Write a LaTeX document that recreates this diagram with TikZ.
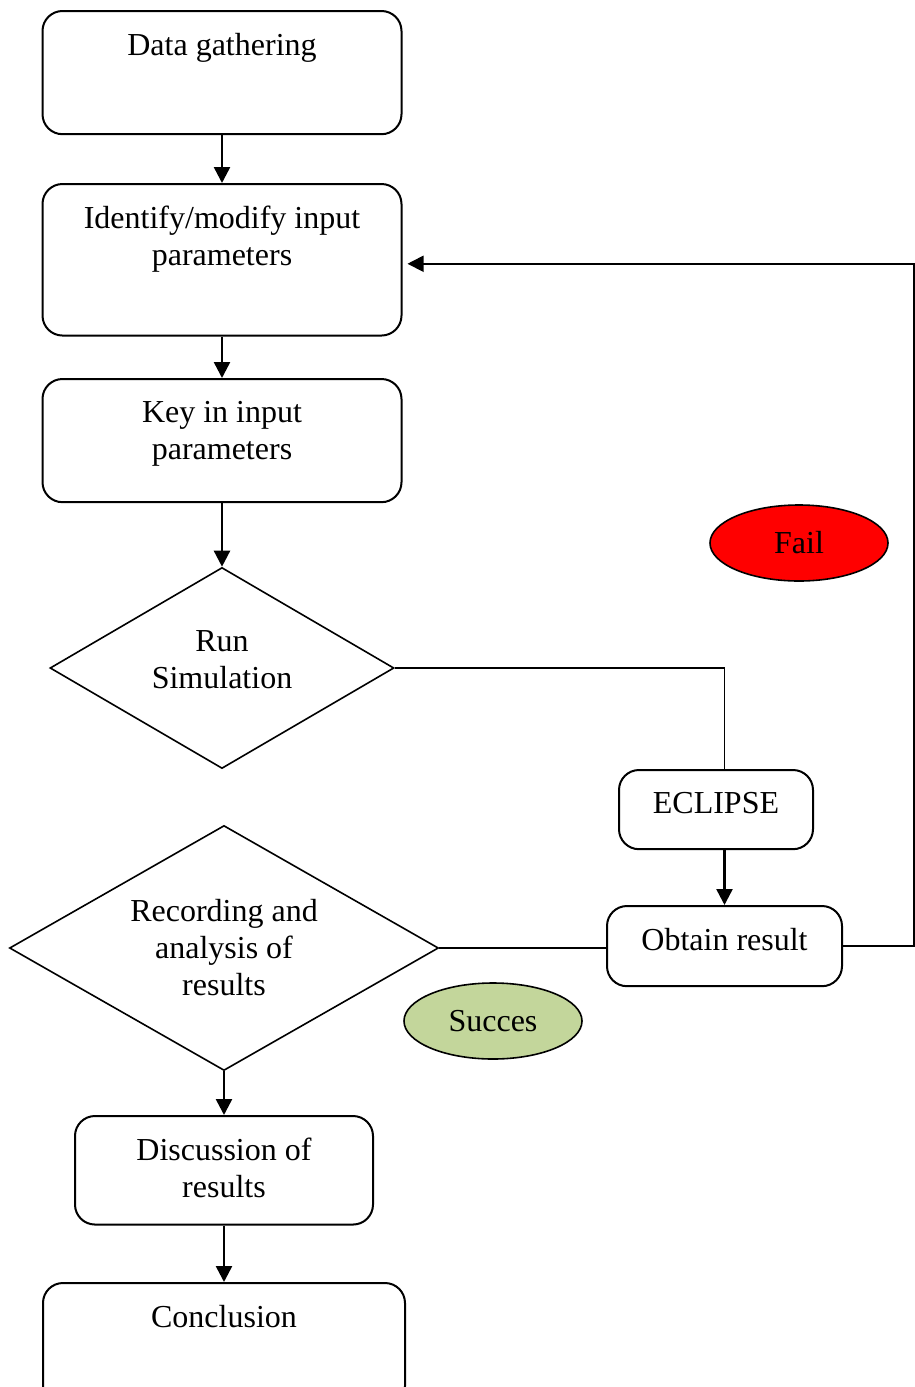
\documentclass[tikz,border=0pt]{standalone}
\usepackage{fontspec}
\setmainfont{Liberation Serif}
\usetikzlibrary{arrows.meta, shapes.geometric, positioning}
\definecolor{succgreen}{HTML}{C3D69B}

\begin{document}
\begin{tikzpicture}[x=0.5pt, y=-0.5pt,
    font=\fontsize{16}{18.5}\selectfont,
    box/.style={draw, rounded corners=10pt, line width=1pt, anchor=north, inner xsep=4pt, inner ysep=11pt, align=center},
    decision/.style={draw, diamond, line width=0.8pt, inner sep=0pt, align=center},
    flag/.style={draw, ellipse, line width=0.8pt, minimum width=89pt, minimum height=38pt, inner sep=0pt},
    arr/.style={-{Triangle[length=8pt, width=8pt]}, line width=1.25pt},
    link/.style={line width=0.8pt}]
    \useasboundingbox (0,0) rectangle (915,1387);

    % Left column
    \node[box, minimum width=179.5pt, text depth=28.5pt] (gather) at (222,10) {Data gathering};
    \node[box, minimum width=179.5pt, text depth=24pt] (ident) at (222,183) {Identify/modify input\\parameters};
    \node[box, minimum width=179.5pt, text depth=10.5pt] (key) at (222,378) {Key in input\\parameters};
    \node[decision, minimum width=172pt, minimum height=100.5pt, shape aspect=1.7, text depth=8pt] (run) at (222,668) {Run\\Simulation};
    \node[decision, minimum width=214.5pt, minimum height=122.5pt, shape aspect=1.75] (rec) at (224,948) {Recording and\\analysis of\\results};
    \node[box, minimum width=149pt, text depth=2.5pt] (disc) at (224,1115) {Discussion of\\results};
    \node[box, minimum width=181pt, text depth=28.5pt] (concl) at (224,1282) {Conclusion};

    % Simulator side
    \node[box, minimum width=97pt, text depth=7pt] (eclipse) at (716,769) {ECLIPSE};
    \node[box, minimum width=117.5pt, text depth=7pt] (obtain) at (724.5,905) {Obtain result};

    % Outcomes
    \node[flag, fill=red] (fail) at (799,543) {Fail};
    \node[flag, fill=succgreen] (succes) at (493,1021) {Succes};

    % Connectors
    \draw[arr] (gather) -- (ident);
    \draw[arr] (ident) -- (key);
    \draw[arr] (key) -- (run);
    \draw[link] (run.east) -| (obtain.north |- eclipse.north);
    \draw[arr] (obtain.north |- eclipse.south) -- (obtain.north);
    \draw[link] (rec.east) -- (rec.east -| obtain.west);
    \draw[arr, line width=0.9pt] (obtain.east) -- ++(71,0) |- ([shift={(2.5pt,-2pt)}]ident.east);
    \draw[arr] (rec) -- (disc);
    \draw[arr] (disc) -- (concl);
\end{tikzpicture}
\end{document}
